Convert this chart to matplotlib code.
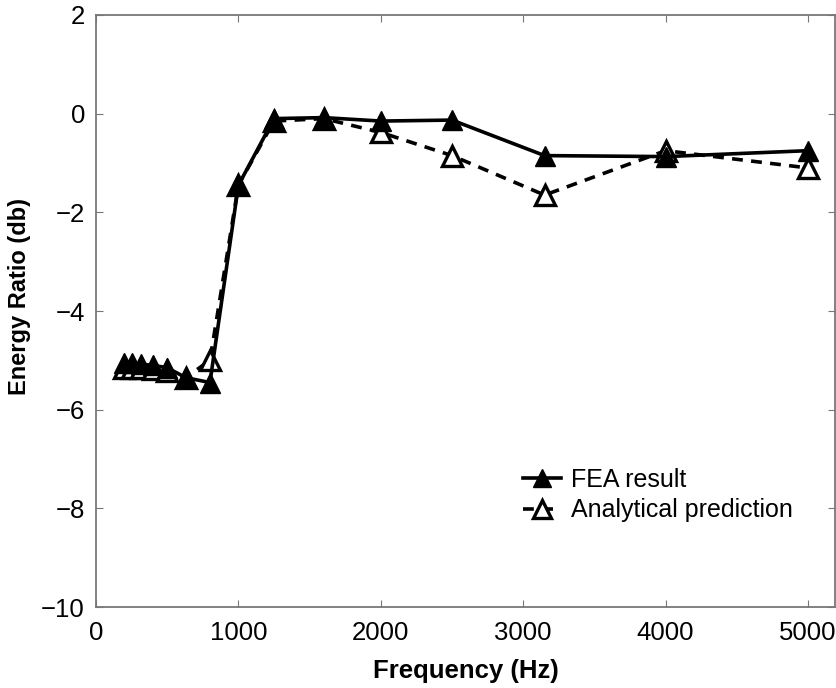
import matplotlib
matplotlib.use("Agg")
import matplotlib.pyplot as plt

plt.rcParams['font.family'] = ['Liberation Sans', 'DejaVu Sans']

freq = [200, 250, 315, 400, 500, 630, 800, 1000, 1250, 1600, 2000, 2500, 3150, 4000, 5000]
fea = [-5.05, -5.05, -5.08, -5.1, -5.15, -5.35, -5.45, -1.45, -0.1, -0.08, -0.15, -0.13, -0.85, -0.87, -0.75]
analytical = [-5.15, -5.15, -5.15, -5.18, -5.22, -5.35, -5.0, -1.45, -0.15, -0.1, -0.38, -0.85, -1.65, -0.75, -1.1]

x_ticks = [0, 1000, 2000, 3000, 4000, 5000]
y_ticks = [-10, -8, -6, -4, -2, 0, 2]

fig = plt.figure(figsize=(8.37, 6.88), dpi=100)
ax = fig.add_axes([0.1147, 0.1177, 0.883, 0.8605])

ax.plot(freq, analytical, linestyle=(0, (3.0, 2.3)), color='black', linewidth=2.6,
        marker='^', markersize=14, markerfacecolor='white', markeredgecolor='black',
        markeredgewidth=2.4, label='Analytical prediction', zorder=2)
ax.plot(freq, fea, linestyle='-', color='black', linewidth=2.6,
        marker='^', markersize=15, markerfacecolor='black', markeredgecolor='black',
        label='FEA result', zorder=3)

ax.set_xlim(0, 5190)
ax.set_ylim(-10, 2)
ax.set_xticks(x_ticks)
ax.set_yticks(y_ticks)
ax.set_yticklabels(['\u221210', '\u22128', '\u22126', '\u22124', '\u22122', '0', '2'])
ax.tick_params(direction='in', top=True, right=True, labelsize=18.5, length=5, color='#777777', pad=8)
ax.tick_params(axis='x', pad=10)
for s in ax.spines.values():
    s.set_color('#777777')
    s.set_linewidth(1.3)

ax.set_xlabel('Frequency (Hz)', fontsize=18.5, fontweight='bold', labelpad=10.5)
ax.set_ylabel('Energy Ratio (db)', fontsize=17, fontweight='bold')
ax.yaxis.set_label_coords(-0.088, 0.524)

h, l = ax.get_legend_handles_labels()
leg = ax.legend(h[::-1], l[::-1], loc='lower right', bbox_to_anchor=(0.973, 0.105), frameon=False,
                fontsize=18, handlelength=1.5, handletextpad=0.4, labelspacing=0.25,
                markerscale=0.9)

fig.savefig('out.png', dpi=100)
